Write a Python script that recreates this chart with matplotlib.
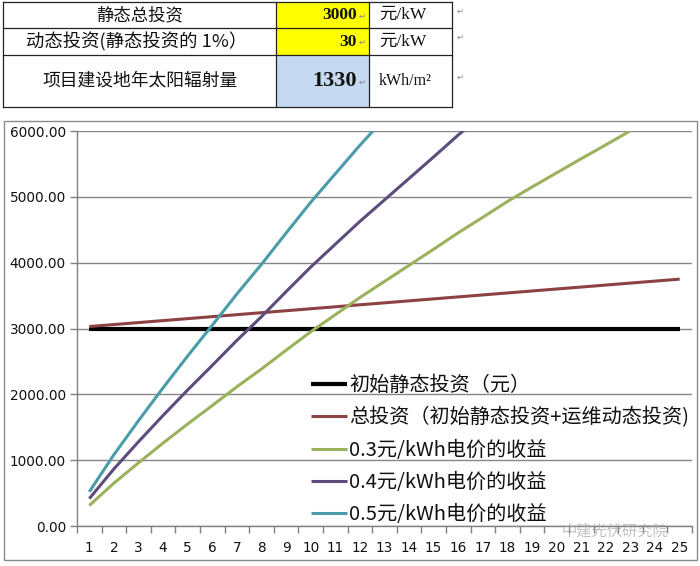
import matplotlib
matplotlib.use("Agg")
import matplotlib.pyplot as plt
from matplotlib.patches import Rectangle
from matplotlib.lines import Line2D

plt.rcParams['font.family'] = ['Noto Sans CJK SC', 'DejaVu Sans']

# ---- data ----
years = list(range(1, 26))
static_invest = [3000] * 25
total_invest = [3030, 3060, 3090, 3120, 3150, 3180, 3210, 3240, 3270, 3300,
                3330, 3360, 3390, 3420, 3450, 3480, 3510, 3540, 3570, 3600,
                3630, 3660, 3690, 3720, 3750]
rev_03 = [312, 650, 960, 1260, 1550, 1830, 2115, 2385, 2670, 2950,
          3210, 3470, 3715, 3960, 4205, 4455, 4690, 4930, 5150, 5365,
          5580, 5790, 6005]
rev_04 = [416, 867, 1280, 1680, 2067, 2440, 2820, 3180, 3560, 3933,
          4280, 4627, 4953, 5280, 5607, 5940, 6253]
rev_05 = [520, 1083, 1600, 2100, 2583, 3050, 3525, 3975, 4450, 4917,
          5350, 5783, 6192]

labels = ['初始静态投资（元）', '总投资（初始静态投资+运维动态投资)',
          '0.3元/kWh电价的收益', '0.4元/kWh电价的收益', '0.5元/kWh电价的收益']
colors = ['#000000', '#8C4242', '#9BB25C', '#5E4D7C', '#4B9CAA']

table_rows = ['静态总投资', '动态投资(静态投资的 1%）', '项目建设地年太阳辐射量']
table_vals = ['3000', '30', '1330']
table_units = ['元/kW', '元/kW', 'kWh/m²']
table_fill = ['#FFFF00', '#FFFF00', '#C5D9F1']

W, H = 700, 566
fig = plt.figure(figsize=(7.0, 5.66), dpi=100)


def fx(px):
    return px / W


def fy(py):
    return 1 - py / H


# ---- table at top ----
row_edges = [2, 28, 55, 107]
col_edges = [3, 276, 369, 452]
for i in range(3):
    y0, y1 = row_edges[i], row_edges[i + 1]
    fig.add_artist(Rectangle((fx(col_edges[1]), fy(y1)), fx(col_edges[2] - col_edges[1]),
                             (y1 - y0) / H, facecolor=table_fill[i], edgecolor='none',
                             transform=fig.transFigure))
for y in row_edges:
    fig.add_artist(Line2D([fx(col_edges[0]), fx(col_edges[3])], [fy(y), fy(y)],
                          color='#222222', lw=0.9, transform=fig.transFigure))
for x in col_edges:
    fig.add_artist(Line2D([fx(x), fx(x)], [fy(row_edges[0]), fy(row_edges[3])],
                          color='#222222', lw=0.9, transform=fig.transFigure))

row_centers = [15, 41.5, 81]
name_x = [140, 137, 140]
name_fs = [12.5, 13.2, 12.8]
for i in range(3):
    fig.text(fx(name_x[i]), fy(row_centers[i]), table_rows[i], ha='center', va='center',
             fontsize=name_fs[i], color='#111111')
    fsz = 16 if i == 2 else 12.5
    fig.text(fx(357), fy(row_centers[i]), table_vals[i], ha='right', va='center',
             fontsize=fsz, fontweight='bold', color='#111111',
             family=['Liberation Serif', 'Noto Sans CJK SC'])
    fig.text(fx(379), fy(row_centers[i]), table_units[i], ha='left', va='center',
             fontsize=12.5 if i < 2 else 11.5, color='#111111',
             family=['Liberation Serif', 'Noto Sans CJK SC'])
    # paragraph marks
    fig.text(fx(359), fy(row_centers[i] + 1), '↵', ha='left', va='center',
             fontsize=6, color='#888888', family=['DejaVu Sans'])
    fig.text(fx(457), fy(row_centers[i] - 4), '↵', ha='left', va='center',
             fontsize=6, color='#888888', family=['DejaVu Sans'])

# ---- chart outer frame ----
fig.add_artist(Rectangle((fx(4), fy(560)), fx(693), 439 / H, facecolor='none',
                         edgecolor='#8A8A8A', lw=1.0, transform=fig.transFigure))

# ---- plot area ----
ax = fig.add_axes([fx(77), fy(526), fx(615), (526 - 131) / H])
series = [static_invest, total_invest, rev_03, rev_04, rev_05]
widths = [3.0, 2.2, 2.2, 2.2, 2.2]
for s, lab, c, lw in zip(series, labels, colors, widths):
    ax.plot(years[:len(s)], s, color=c, lw=lw, label=lab, solid_capstyle='butt', zorder=3)

ax.set_xlim(0.5, 25.5)
ax.set_ylim(0, 6000)
ax.set_yticks(range(0, 6001, 1000))
ax.set_yticklabels([f'{v:.2f}' for v in range(0, 6001, 1000)],
                   fontsize=9.8, family=['DejaVu Sans'], color='#111111')
ax.set_xticks(years)
ax.set_xticklabels([str(y) for y in years], fontsize=9.8, family=['DejaVu Sans'],
                   color='#111111')
ax.set_xticks([v + 0.5 for v in range(0, 26)], minor=True)
ax.tick_params(axis='x', which='major', length=0, pad=11)
ax.tick_params(axis='x', which='minor', length=5, color='#808080', width=1)
ax.tick_params(axis='y', which='major', length=5, color='#808080', width=1, pad=3)
ax.grid(axis='y', color='#868686', lw=1.0, zorder=0)
for sp in ['top', 'right']:
    ax.spines[sp].set_visible(False)
for sp in ['left', 'bottom']:
    ax.spines[sp].set_color('#808080')
    ax.spines[sp].set_linewidth(1.0)
ax.set_axisbelow(True)

leg = ax.legend(loc='upper left', bbox_to_anchor=(fx(311), fy(375)),
                bbox_transform=fig.transFigure, frameon=False, fontsize=14.5,
                handlelength=1.8, handletextpad=0.1, labelspacing=0.56,
                borderpad=0, borderaxespad=0)
for t in leg.get_texts():
    t.set_color('#111111')

# watermark
fig.text(fx(562), fy(531), '中建光伏研究院', fontsize=11, color='#9a9a9a', alpha=0.6,
         ha='left', va='center')

fig.savefig('out.png', dpi=100)
